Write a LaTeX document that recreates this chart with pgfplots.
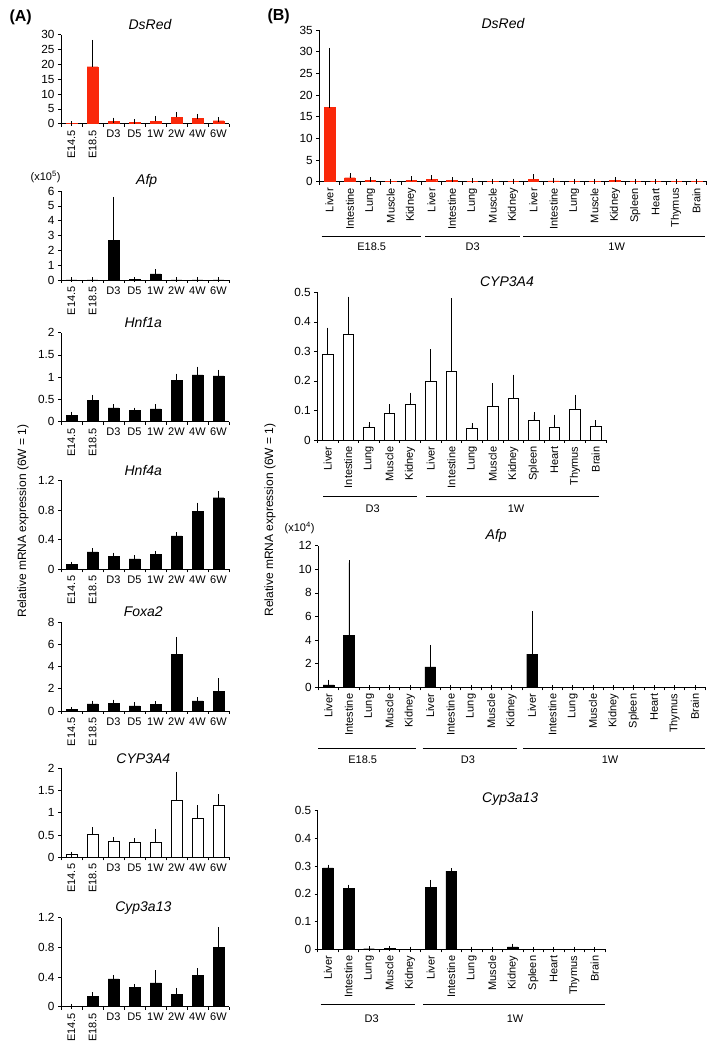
\documentclass[border=0pt]{standalone}
\usepackage{fontspec}
\setmainfont{Liberation Sans}
\usepackage{graphicx}
\usepackage{pgfplots}
\pgfplotsset{compat=1.18}
\definecolor{dsred}{RGB}{250,40,10}
\newcommand{\tk}{\fontsize{11}{13}\selectfont}
\newcommand{\ytk}{\fontsize{11.8}{13}\selectfont}
\pgfplotsset{
 base/.style={scale only axis, anchor=south west, axis x line*=bottom, axis y line*=left,
   axis line style={-,black,line width=0.6pt}, tick align=outside, major tick length=3pt,
   minor tick length=3pt, tick style={black,line width=0.6pt}, ymin=0, enlargelimits=false,
   clip=false, xticklabel style={font=\tk}, yticklabel style={font=\ytk}, /pgf/number format/assume math mode=true,
   major x tick style={draw=none},
   title style={font=\fontsize{14}{16}\selectfont\itshape, anchor=center},
   ybar, bar shift=0pt,
   error bars/y dir=plus, error bars/y explicit,
   error bars/error bar style={black,line width=0.6pt},
   error bars/error mark options={black, mark size=2.5pt, line width=0.6pt}},
 panelA/.style={base, width=168pt, height=89pt, xmin=-0.5, xmax=7.5, xtick={0,...,7},
   minor xtick={-0.5,0.5,...,7.5},
   xticklabels={{\rotatebox{90}{E14.5}},{\rotatebox{90}{E18.5}},D3,D5,1W,2W,4W,6W},
   xticklabel style={anchor=north}, bar width=10.8pt,
   title style={at={(0.49,1)}, yshift=4pt}},
 panelB/.style={base, bar width=10.6pt, xticklabel style={rotate=90, anchor=east}},
 B19/.style={panelB, xmin=-0.5, xmax=18.5, xtick={0,...,18}, minor xtick={-0.5,0.5,...,18.5},
   xticklabels={Liver,Intestine,Lung,Muscle,Kidney,Liver,Intestine,Lung,Muscle,Kidney,Liver,Intestine,Lung,Muscle,Kidney,Spleen,Heart,Thymus,Brain}},
 B14/.style={panelB, xmin=-0.5, xmax=13.5, xtick={0,...,13}, minor xtick={-0.5,0.5,...,13.5},
   xticklabels={Liver,Intestine,Lung,Muscle,Kidney,Liver,Intestine,Lung,Muscle,Kidney,Spleen,Heart,Thymus,Brain}},
 redbar/.style={fill=dsred, draw=dsred},
 blackbar/.style={fill=black, draw=black},
 whitebar/.style={fill=white, draw=black, line width=0.6pt},
}
\begin{document}
\begin{tikzpicture}
\path[use as bounding box] (0,0) rectangle (709pt,1044pt);
% ---------------- Panel A ----------------
\begin{axis}[panelA, at={(61pt,920.3pt)}, ymax=30, ytick={0,5,10,15,20,25,30}, title={DsRed}, title style={at={(0.53,1)}}]
\addplot[redbar] coordinates {(0,0.05) +- (0,0) (1,19.2) +- (0,8.2) (2,0.9) +- (0,0.3) (3,0.5) +- (0,0.2) (4,0.8) +- (0,1.0) (5,2.1) +- (0,1.0) (6,1.7) +- (0,0.8) (7,1.0) +- (0,0.35)};
\end{axis}
\begin{axis}[panelA, at={(61pt,764pt)}, ymax=6, ytick={0,1,2,3,4,5,6}, title={Afp}, title style={at={(0.51,1)}}]
\addplot[blackbar] coordinates {(0,0) +- (0,0) (1,0.01) +- (0,0) (2,2.67) +- (0,2.76) (3,0.02) +- (0,0) (4,0.41) +- (0,0.16) (5,0) +- (0,0) (6,0) +- (0,0) (7,0) +- (0,0)};
\end{axis}
\begin{axis}[panelA, at={(61pt,622.3pt)}, ymax=2, ytick={0,0.5,1,1.5,2}, title={Hnf1a}]
\addplot[blackbar] coordinates {(0,0.15) +- (0,0.02) (1,0.485) +- (0,0.06) (2,0.31) +- (0,0.03) (3,0.25) +- (0,0.01) (4,0.29) +- (0,0.05) (5,0.925) +- (0,0.1) (6,1.05) +- (0,0.13) (7,1.03) +- (0,0.08)};
\end{axis}
\begin{axis}[panelA, at={(61pt,474.7pt)}, ymax=1.2, ytick={0,0.4,0.8,1.2}, title={Hnf4a}]
\addplot[blackbar] coordinates {(0,0.07) +- (0,0) (1,0.235) +- (0,0.015) (2,0.175) +- (0,0.015) (3,0.14) +- (0,0.015) (4,0.205) +- (0,0.01) (5,0.45) +- (0,0.015) (6,0.777) +- (0,0.087) (7,0.965) +- (0,0.055)};
\end{axis}
\begin{axis}[panelA, at={(61pt,333pt)}, ymax=8, ytick={0,2,4,6,8}, title={Foxa2}]
\addplot[blackbar] coordinates {(0,0.15) +- (0,0) (1,0.63) +- (0,0.07) (2,0.7) +- (0,0.09) (3,0.45) +- (0,0.09) (4,0.57) +- (0,0.06) (5,5.1) +- (0,1.33) (6,0.9) +- (0,0.13) (7,1.78) +- (0,0.94)};
\end{axis}
\begin{axis}[panelA, at={(61pt,186.7pt)}, ymax=2, ytick={0,0.5,1,1.5,2}, title={CYP3A4}]
\addplot[whitebar] coordinates {(0,0.07) +- (0,0) (1,0.51) +- (0,0.11) (2,0.36) +- (0,0.03) (3,0.34) +- (0,0.03) (4,0.34) +- (0,0.24) (5,1.27) +- (0,0.6) (6,0.876) +- (0,0.24) (7,1.17) +- (0,0.19)};
\end{axis}
\begin{axis}[panelA, at={(61pt,37.3pt)}, ymax=1.2, ytick={0,0.4,0.8,1.2}, title={Cyp3a13}]
\addplot[blackbar] coordinates {(0,0.005) +- (0,0) (1,0.143) +- (0,0.017) (2,0.376) +- (0,0.018) (3,0.26) +- (0,0.013) (4,0.322) +- (0,0.135) (5,0.17) +- (0,0.05) (6,0.42) +- (0,0.068) (7,0.80) +- (0,0.24)};
\end{axis}
% ---------------- Panel B ----------------
\begin{axis}[B19, at={(319.3pt,862.3pt)}, width=387.4pt, height=151.7pt, ymax=35, ytick={0,5,10,15,20,25,30,35}, title={DsRed}, title style={at={(0.474,1)}, yshift=0pt}]
\addplot[redbar] coordinates {(0,17.1) +- (0,13.2) (1,0.92) +- (0,0.45) (2,0.3) +- (0,0.15) (3,0.05) +- (0,0) (4,0.3) +- (0,0.4) (5,0.6) +- (0,0.3) (6,0.3) +- (0,0.1) (7,0.15) +- (0,0.1) (8,0.05) +- (0,0) (9,0.1) +- (0,0.05) (10,0.55) +- (0,0.6) (11,0.2) +- (0,0.1) (12,0.05) +- (0,0) (13,0.05) +- (0,0) (14,0.3) +- (0,0.1) (15,0.05) +- (0,0) (16,0) +- (0,0) (17,0.02) +- (0,0) (18,0.02) +- (0,0)};
\end{axis}
\begin{axis}[B14, at={(317.3pt,604pt)}, width=288.7pt, height=147.7pt, ymax=0.5, ytick={0,0.1,0.2,0.3,0.4,0.5}, title={CYP3A4}, title style={at={(0.657,1)}, yshift=5pt}]
\addplot[whitebar] coordinates {(0,0.291) +- (0,0.081) (1,0.358) +- (0,0.119) (2,0.043) +- (0,0.008) (3,0.09) +- (0,0.023) (4,0.122) +- (0,0.03) (5,0.199) +- (0,0.1) (6,0.231) +- (0,0.24) (7,0.038) +- (0,0.011) (8,0.114) +- (0,0.07) (9,0.14) +- (0,0.073) (10,0.065) +- (0,0.02) (11,0.044) +- (0,0.033) (12,0.103) +- (0,0.041) (13,0.046) +- (0,0.013)};
\end{axis}
\begin{axis}[B19, at={(318.3pt,356.7pt)}, width=386.7pt, height=141.6pt, ymax=12, ytick={0,2,4,6,8,10,12}, title={Afp}, title style={at={(0.46,1)}, yshift=4pt}]
\addplot[blackbar] coordinates {(0,0.2) +- (0,0.22) (1,4.38) +- (0,6.18) (2,0) +- (0,0) (3,0) +- (0,0) (4,0) +- (0,0) (5,1.72) +- (0,1.67) (6,0) +- (0,0) (7,0) +- (0,0) (8,0) +- (0,0) (9,0) +- (0,0) (10,2.82) +- (0,3.42) (11,0) +- (0,0) (12,0) +- (0,0) (13,0) +- (0,0) (14,0) +- (0,0) (15,0) +- (0,0) (16,0) +- (0,0) (17,0) +- (0,0) (18,0) +- (0,0)};
\end{axis}
\begin{axis}[B14, at={(317.7pt,94.7pt)}, width=287.3pt, height=138.6pt, ymax=0.5, ytick={0,0.1,0.2,0.3,0.4,0.5}, title={Cyp3a13}, title style={at={(0.67,1)}, yshift=5.5pt}]
\addplot[blackbar] coordinates {(0,0.294) +- (0,0.002) (1,0.22) +- (0,0.004) (2,0.002) +- (0,0) (3,0.003) +- (0,0) (4,0.001) +- (0,0) (5,0.224) +- (0,0.017) (6,0.282) +- (0,0.002) (7,0.001) +- (0,0) (8,0) +- (0,0) (9,0.009) +- (0,0.002) (10,0) +- (0,0) (11,0) +- (0,0) (12,0.001) +- (0,0) (13,0) +- (0,0)};
\end{axis}
% ---------------- Annotations ----------------
\node[font=\fontsize{16}{18}\selectfont\bfseries, anchor=west] at (6pt,1026.5pt) {(A)};
\node[font=\fontsize{16}{18}\selectfont\bfseries, anchor=west] at (264pt,1027.3pt) {(B)};
\node[font=\tk, anchor=east] at (64pt,866.7pt) {(x10\textsuperscript{5})};
\node[font=\tk, anchor=east] at (318pt,515.7pt) {(x10\textsuperscript{4})};
\node[font=\fontsize{12}{14}\selectfont, rotate=90] at (23pt,523pt) {Relative mRNA expression (6W = 1)};
\node[font=\fontsize{12}{14}\selectfont, rotate=90] at (270pt,524pt) {Relative mRNA expression (6W = 1)};
\begin{scope}[line width=0.6pt]
% DsRed B groups
\draw (321.7pt,807.3pt) -- (420.7pt,807.3pt);
\draw (425pt,807.3pt) -- (520pt,807.3pt);
\draw (523pt,807.3pt) -- (705pt,807.3pt);
\node[font=\tk] at (371.7pt,797pt) {E18.5};
\node[font=\tk] at (472.7pt,797pt) {D3};
\node[font=\tk] at (616.7pt,797pt) {1W};
% CYP3A4 B groups
\draw (323pt,547.3pt) -- (417pt,547.3pt);
\draw (426pt,547.3pt) -- (599pt,547.3pt);
\node[font=\tk] at (372.7pt,535pt) {D3};
\node[font=\tk] at (516pt,535pt) {1W};
% Afp B groups
\draw (318pt,295.7pt) -- (415.7pt,295.7pt);
\draw (422.7pt,295.7pt) -- (517.3pt,295.7pt);
\draw (523.3pt,295.7pt) -- (705pt,295.7pt);
\node[font=\tk] at (362.7pt,284.7pt) {E18.5};
\node[font=\tk] at (468pt,284.7pt) {D3};
\node[font=\tk] at (610pt,284.7pt) {1W};
% Cyp3a13 B groups
\draw (320.7pt,39.7pt) -- (415pt,39.7pt);
\draw (423.3pt,39.7pt) -- (605pt,39.7pt);
\node[font=\tk] at (371.7pt,25pt) {D3};
\node[font=\tk] at (515pt,25pt) {1W};
\end{scope}
\end{tikzpicture}
\end{document}
